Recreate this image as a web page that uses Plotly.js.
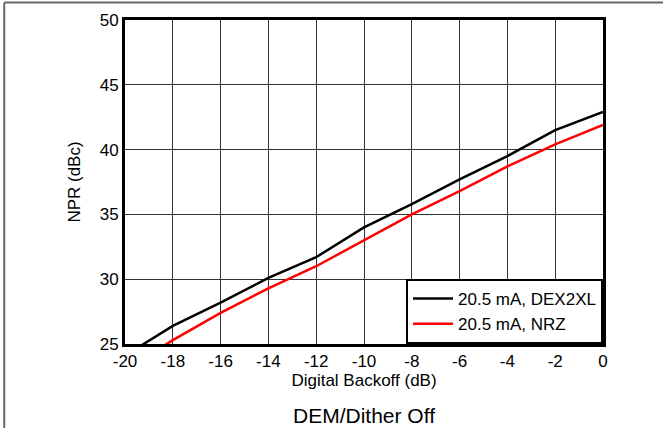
<!DOCTYPE html>
<html>
<head>
<meta charset="utf-8">
<script src="https://cdn.plot.ly/plotly-3.0.1.min.js"></script>
<style>
html,body{margin:0;padding:0;background:#fff;}
#chart{width:663px;height:428px;}
</style>
</head>
<body>
<div id="chart"></div>
<script>
const backoff = [-20, -18, -16, -14, -12, -10, -8, -6, -4, -2, 0];
const nprDex2xl = [24.1, 26.4, 28.2, 30.1, 31.7, 34.0, 35.8, 37.7, 39.5, 41.5, 42.9];
const nprNrz = [23.0, 25.3, 27.4, 29.3, 31.0, 33.0, 35.0, 36.8, 38.7, 40.4, 41.9];
const seriesNames = ['20.5 mA, DEX2XL', '20.5 mA, NRZ'];
const xTicks = [-20, -18, -16, -14, -12, -10, -8, -6, -4, -2, 0];
const yTicks = [25, 30, 35, 40, 45, 50];

const FONT = 'Liberation Sans, Arial, sans-serif';

const traces = [
  {x: backoff, y: nprDex2xl, name: seriesNames[0], mode: 'lines', line: {color: '#000000', width: 2.5}},
  {x: backoff, y: nprNrz, name: seriesNames[1], mode: 'lines', line: {color: '#ff0000', width: 2.5}}
];

const layout = {
  width: 663, height: 428,
  margin: {l: 125, r: 60, t: 20, b: 84},
  paper_bgcolor: '#ffffff', plot_bgcolor: '#ffffff',
  font: {family: FONT, size: 17, color: '#000'},
  showlegend: true,
  legend: {
    x: 1, xanchor: 'right', y: 0, yanchor: 'bottom',
    bgcolor: '#ffffff', bordercolor: '#000000', borderwidth: 2,
    font: {family: FONT, size: 17, color: '#000'},
    itemwidth: 40,
    tracegroupgap: 0
  },
  xaxis: {
    range: [-20, 0], tickvals: xTicks, ticktext: xTicks.map(String),
    showgrid: true, gridcolor: '#333', gridwidth: 1,
    zeroline: false, showline: true, linecolor: '#000', linewidth: 3, mirror: true,
    ticks: '', tickfont: {family: FONT, size: 17, color: '#000'},
    title: {text: 'Digital Backoff (dB)', font: {family: FONT, size: 17, color: '#000'}, standoff: 4},
    automargin: false
  },
  yaxis: {
    range: [25, 50], tickvals: yTicks, ticktext: yTicks.map(String),
    showgrid: true, gridcolor: '#333', gridwidth: 1,
    zeroline: false, showline: true, linecolor: '#000', linewidth: 3, mirror: true,
    ticks: '', tickfont: {family: FONT, size: 17, color: '#000'},
    title: {text: 'NPR (dBc)', font: {family: FONT, size: 17, color: '#000'}, standoff: 15},
    automargin: false
  },
  annotations: [{
    text: 'DEM/Dither Off', xref: 'paper', yref: 'paper', x: 0.5, y: -0.222,
    xanchor: 'center', yanchor: 'middle', showarrow: false,
    font: {family: FONT, size: 21, color: '#000'}
  }],
  shapes: [
    {type: 'line', xref: 'paper', yref: 'paper', x0: -0.2526, x1: -0.2526, y0: -0.3, y1: 1.054, line: {color: '#666', width: 2}},
    {type: 'line', xref: 'paper', yref: 'paper', x0: -0.2526, x1: 1.2, y0: 1.054, y1: 1.054, line: {color: '#666', width: 2}}
  ]
};

Plotly.newPlot('chart', traces, layout, {staticPlot: true, displayModeBar: false});
</script>
</body>
</html>
